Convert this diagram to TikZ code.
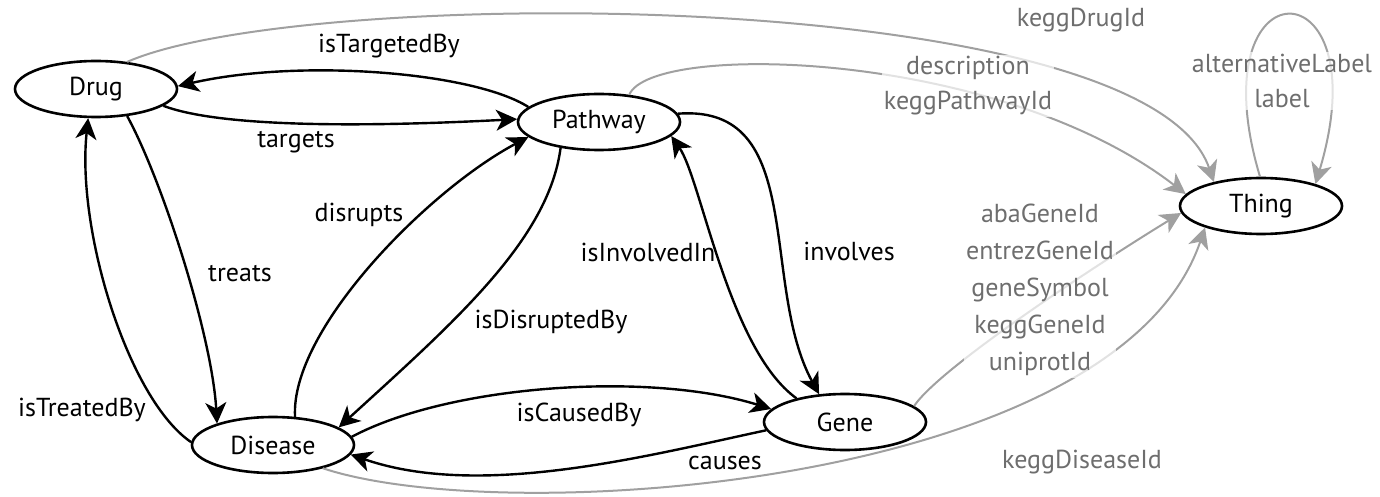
\documentclass[tikz,border=0pt]{standalone}
\usepackage{fontspec}
\setmainfont{PT Sans}
\usetikzlibrary{shapes.geometric,arrows.meta}
\definecolor{attrgray}{HTML}{A0A0A0}
\definecolor{labgray}{HTML}{6E6E6E}
\tikzset{
  cls/.style={ellipse,draw,line width=1.3pt,minimum width=81pt,minimum height=28pt,inner sep=0pt,font=\fontsize{13}{15}\selectfont},
  rel/.style={-{Stealth[length=10.5pt,width=10.5pt,inset=3pt]},line width=1.2pt},
  attr/.style={-{Stealth[length=10.5pt,width=10.5pt,inset=3pt]},line width=1pt,draw=attrgray},
  rlab/.style={font=\fontsize{13}{15}\selectfont},
  alab/.style={font=\fontsize{13}{17.5}\selectfont,text=labgray,align=center,fill=white,fill opacity=0.7,text opacity=1,inner sep=1pt},
}
\begin{document}
\begin{tikzpicture}[x=0.5pt,y=-0.5pt]
  \useasboundingbox (0,0) rectangle (1380,497);
  \node[cls] (drug) at (96,89) {Drug};
  \node[cls] (pathway) at (599,122) {Pathway};
  \node[cls] (thing) at (1261,206) {Thing};
  \node[cls] (disease) at (273,445) {Disease};
  \node[cls] (gene) at (845,422) {Gene};

  \draw[attr] (drug.41) .. controls +(175,-77) and +(-67,-197) .. (thing.153);
  \draw[attr] (pathway.42) .. controls +(22,-53) and +(-188,-145) .. (thing.171);
  \draw[attr] (gene.13) .. controls +(27,-40) and +(-77,47) .. (thing.185);
  \draw[attr] (disease.-25) .. controls +(180,60) and +(-88,260) .. (thing.-159);
  \draw[attr] (thing.92) .. controls +(-65,-217) and +(67,-223) .. (thing.22);

  \draw[rel] (pathway.168) .. controls +(-55,-35) and +(122,-28) .. (drug.2);
  \draw[rel] (drug.-14) .. controls +(68,26) and +(-97,5) .. (pathway.178);
  \draw[rel] (pathway.6) .. controls +(130,-10) and +(-60,-110) .. (gene.133);
  \draw[rel] (gene.154) .. controls +(-68,-49) and +(30,43) .. (pathway.-11);
  \draw[rel] (drug.-41) .. controls +(35,64) and +(-5,-88) .. (disease.159);
  \draw[rel] (disease.178) .. controls +(-63,-43) and +(-12,112) .. (drug.-105);
  \draw[rel] (disease.52) .. controls +(-5,-87) and +(-100,53) .. (pathway.-168);
  \draw[rel] (pathway.-146) .. controls +(-12,92) and +(115,-105) .. (disease.15);
  \draw[rel] (disease.6) .. controls +(98,-52) and +(-122,-38) .. (gene.170);
  \draw[rel] (gene.-174) .. controls +(-117,25) and +(130,45) .. (disease.-7);

  \node[rlab] (lTargetedBy) at (389,46) {isTargetedBy};
  \node[rlab] (lTargets) at (296,142) {targets};
  \node[rlab] (lInvolves) at (849,251) {involves};
  \node[rlab] (lInvolvedIn) at (648,252) {isInvolvedIn};
  \node[rlab] (lDisrupts) at (359,215) {disrupts};
  \node[rlab] (lDisruptedBy) at (551,322) {isDisruptedBy};
  \node[rlab] (lTreats) at (240,274) {treats};
  \node[rlab] (lTreatedBy) at (82,410) {isTreatedBy};
  \node[rlab] (lCausedBy) at (579,415) {isCausedBy};
  \node[rlab] (lCauses) at (725,463) {causes};

  \node[alab] (lDrugId) at (1081,20) {keggDrugId};
  \node[alab] (lPathwayIds) at (968,86) {description\\keggPathwayId};
  \node[alab,font=\fontsize{13}{18.5}\selectfont] (lGeneIds) at (1040,290) {abaGeneId\\entrezGeneId\\geneSymbol\\keggGeneId\\uniprotId};
  \node[alab] (lDiseaseId) at (1082,462) {keggDiseaseId};
  \node[alab] (lLabels) at (1282,81) {alternativeLabel\\label};
\end{tikzpicture}
\end{document}
